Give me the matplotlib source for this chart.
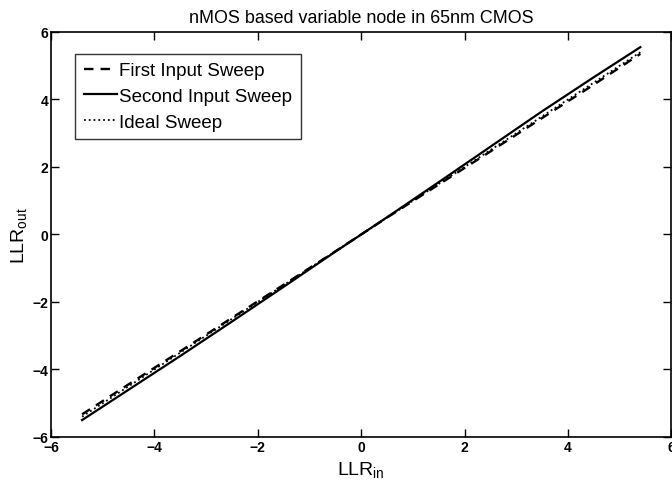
import matplotlib
matplotlib.use('Agg')
import matplotlib.pyplot as plt
import numpy as np

# values
llr_in = [-5.4, -4.5, -3.5, -2.5, -1.5, -0.5, 0.0, 0.5, 1.5, 2.5, 3.5, 4.5, 5.4]
first_sweep = [-5.33, -4.44, -3.46, -2.47, -1.49, -0.5, 0.0, 0.5, 1.48, 2.46, 3.45, 4.44, 5.35]
second_sweep = [-5.5, -4.6, -3.6, -2.58, -1.55, -0.51, 0.0, 0.51, 1.55, 2.6, 3.65, 4.66, 5.55]
ideal_sweep = [-5.4, -4.5, -3.5, -2.5, -1.5, -0.5, 0.0, 0.5, 1.5, 2.5, 3.5, 4.5, 5.4]
ticks = [-6, -4, -2, 0, 2, 4, 6]

plt.rcParams['font.family'] = ['Liberation Sans', 'DejaVu Sans']
plt.rcParams['mathtext.fontset'] = 'custom'
plt.rcParams['mathtext.rm'] = 'Liberation Sans'

fig = plt.figure(figsize=(6.72, 4.85), dpi=100)
ax = fig.add_axes([0.076, 0.097, 0.923, 0.835])

ax.plot(llr_in, first_sweep, 'k--', lw=1.7, dashes=(4, 3), label='First Input Sweep')
ax.plot(llr_in, second_sweep, 'k-', lw=1.6, label='Second Input Sweep')
ax.plot(llr_in, ideal_sweep, 'k:', lw=1.3, label='Ideal Sweep')

ax.set_xlim(-6, 6)
ax.set_ylim(-6, 6)
ax.set_xticks(ticks)
ax.set_yticks(ticks)
lbl = [str(t).replace('-', '\u2212') for t in ticks]
tick_font = ['Liberation Sans Narrow', 'Liberation Sans']
ax.set_xticklabels(lbl, fontsize=10, fontweight='bold', family=tick_font)
ax.set_yticklabels(lbl, fontsize=10, fontweight='bold', family=tick_font)
ax.tick_params(direction='in', top=True, right=True, length=6, width=1, pad=2)
for s in ax.spines.values():
    s.set_linewidth(1.2)

ax.set_title('nMOS based variable node in 65nm CMOS', fontsize=12.9, pad=7)
ax.set_xlabel('LLR$_{\\mathrm{in}}$', fontsize=14, labelpad=4)
ax.set_ylabel('LLR$_{\\mathrm{out}}$', fontsize=14, labelpad=2)

leg = ax.legend(loc='upper left', bbox_to_anchor=(0.0387, 0.946), borderaxespad=0,
                fontsize=13.5, frameon=True, fancybox=False, edgecolor='black',
                handlelength=1.8, handletextpad=0.1, labelspacing=0.45,
                borderpad=0.45)
leg.get_frame().set_linewidth(1.0)

plt.savefig('out.png', dpi=100)
